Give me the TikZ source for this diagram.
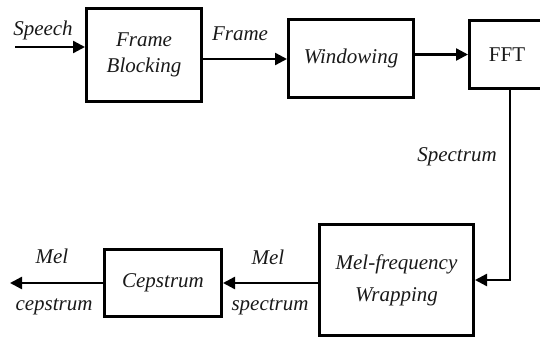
\documentclass[tikz,border=0pt]{standalone}
\usepackage{fontspec}
\setmainfont{Liberation Serif}
\usetikzlibrary{arrows.meta}
\begin{document}
\begin{tikzpicture}[x=1pt,y=-1pt,
  blk/.style={draw=black, line width=3pt, inner sep=0pt, align=center,
    font=\fontsize{21}{26}\selectfont\itshape, text=black!90},
  lbl/.style={inner sep=0pt, font=\fontsize{21}{24}\selectfont\itshape, text=black!90},
  arr/.style={line width=2.4pt, -{Triangle[length=12pt,width=12pt]}},
  ln/.style={line width=2.4pt}]
\useasboundingbox (0,0) rectangle (540,340);
\clip (0,0) rectangle (540,340);
\node[blk, minimum width=115pt, minimum height=93pt] (fb) at (144,55) {Frame\\Blocking};
\node[blk, minimum width=125pt, minimum height=78pt] (w) at (351,58.5) {Windowing};
\node[blk, minimum width=75pt, minimum height=68pt, font=\fontsize{21}{24}\selectfont\upshape] (fft) at (507,54.5) {FFT};
\node[blk, minimum width=154pt, minimum height=111pt, font=\fontsize{21}{32}\selectfont\itshape] (mel) at (396.5,280) {Mel-frequency\\Wrapping};
\node[blk, minimum width=117pt, minimum height=67pt] (cep) at (163,283) {Cepstrum};
\coordinate (in) at (15,47);
\coordinate (out) at (10,283);
\draw[arr] (in) -- (in -| fb.west);
\draw[arr] ([yshift=-4pt]fb.east) -- ([yshift=-4pt]fb.east -| w.west);
\draw[arr] (fft.west -| w.east) -- (fft.west);
\draw[arr] ([xshift=3pt]fft.south) |- (mel.east);
\draw[arr] (cep.east -| mel.west) -- (cep.east);
\draw[arr] (cep.west) -- (out);
\node[lbl] (lsp) at (43,30) {Speech};
\node[lbl] (lfr) at (240,34) {Frame};
\node[lbl] (lspec) at (457,157) {Spectrum};
\node[lbl] (lmel1) at (52,256) {Mel};
\node[lbl] (lcep) at (54,307) {cepstrum};
\node[lbl] (lmel2) at (268,257) {Mel};
\node[lbl] (lspm) at (270,307) {spectrum};
\end{tikzpicture}
\end{document}
